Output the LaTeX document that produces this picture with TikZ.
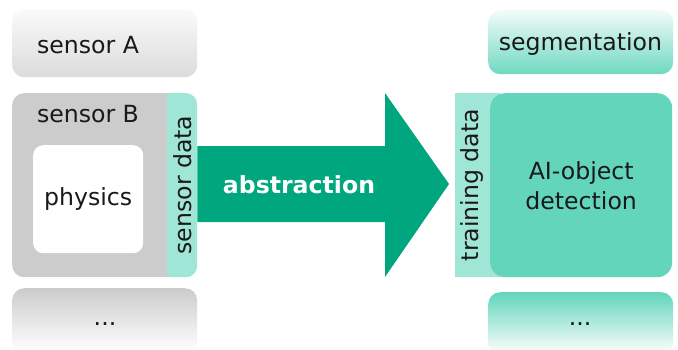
\documentclass[tikz,border=0pt]{standalone}
\usepackage{fontspec}
\setmainfont{DejaVu Sans}
\usetikzlibrary{calc,positioning}
\usepackage{xcolor}
\definecolor{arrowgreen}{RGB}{0,166,126}
\definecolor{datateal}{RGB}{160,230,214}
\definecolor{aiteal}{RGB}{98,213,187}
\definecolor{boxgray}{RGB}{204,204,204}

\begin{document}
\begin{tikzpicture}[x=1pt, y=-1pt,
		every node/.style = {font=\fontsize{23.6}{30}\selectfont, text=black!90},
		box/.style = {rounded corners=12pt, minimum width=185pt, anchor=north west, inner sep=0pt},
		lbl/.style = {anchor=base, inner sep=0pt}]
	\useasboundingbox (0,0) rectangle (678,349);
	% left column
	\node[box, minimum height=68pt, top color=gray!4, bottom color=gray!28] (sensA) at (12,9) {};
	\node[lbl] (labA) at (88,53) {sensor A};
	\node[box, minimum height=184pt, fill=boxgray] (sensB) at (12,93) {};
	\begin{scope}
		\clip[rounded corners=12pt] (sensB.north west) rectangle (sensB.south east);
		\fill[datateal] (167,93) rectangle (sensB.south east);
	\end{scope}
	\node[lbl] (labB) at (88,122) {sensor B};
	\node[box, rounded corners=10pt, minimum width=110pt, minimum height=108pt, fill=white] (phys) at (33,145) {physics};
	\node[rotate=90, inner sep=0pt] (sdata) at (182.5,185) {sensor data};
	\node[box, minimum height=64pt, top color=boxgray, bottom color=white] (moreL) at (12,288) {};
	\node[lbl] (dotsL) at (105,325) {...};
	% arrow
	\fill[arrowgreen] (sensB.east |- 0,146) -- (385,146) -- (385,93) -- (449,184)
		-- (385,277) -- (385,222) -- (sensB.east |- 0,222) -- cycle;
	\node[lbl, text=white, font=\fontsize{23.6}{30}\selectfont\bfseries] (abstr) at (299,193) {abstraction};
	% right column
	\node[box, minimum height=64pt, top color=aiteal!8, bottom color=aiteal!92] (seg) at (488,10) {};
	\node[lbl] (labSeg) at (580.5,50) {segmentation};
	\fill[datateal] (455,93) rectangle (500,277);
	\node[box, rounded corners=15pt, minimum width=182pt, minimum height=184pt, fill=aiteal, align=center] (ai) at (490,93) {AI-object\\detection};
	\node[rotate=90, inner sep=0pt] (tdata) at (472,185) {training data};
	\node[box, minimum height=62pt, top color=aiteal, bottom color=white] (moreR) at (488,292) {};
	\node[lbl] (dotsR) at (580,325) {...};
\end{tikzpicture}
\end{document}
